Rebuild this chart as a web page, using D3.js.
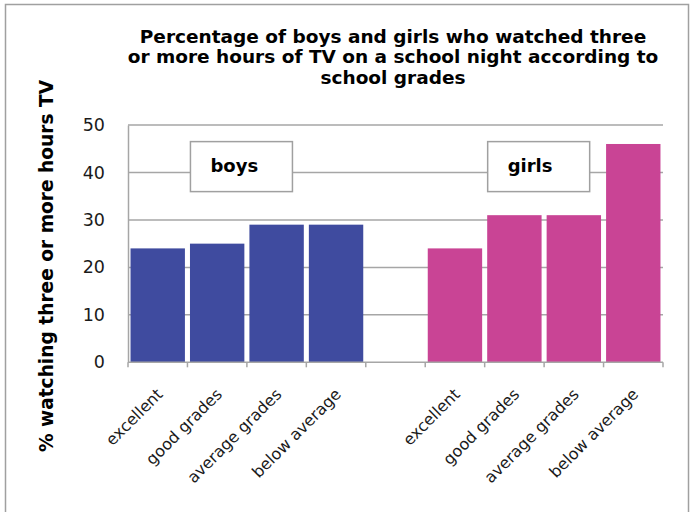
<!DOCTYPE html>
<html>
<head>
<meta charset="utf-8">
<script src="https://cdn.jsdelivr.net/npm/d3@7"></script>
<style>
  html, body { margin: 0; padding: 0; background: #fff; }
  svg { display: block; }
  text { font-family: "DejaVu Sans", Verdana, sans-serif; }
</style>
</head>
<body>
<svg id="chart" width="696" height="512"></svg>
<script>
// Grade categories shared by both groups
const grades = ["excellent", "good grades", "average grades", "below average"];
// Percentage watching 3+ hours of TV on a school night
const boysValues = [24, 25, 29, 29];
const girlsValues = [24, 31, 31, 46];
const yTicks = [0, 10, 20, 30, 40, 50];
const titleLines = [
  "Percentage of boys and girls who watched three",
  "or more hours of TV on a school night according to",
  "school grades"
];
const yLabel = "% watching three or more hours TV";

// One slot per bar, with an empty slot separating the two groups
const slots = [
  ...grades.map((g, i) => ({ key: "b" + i, label: g, value: boysValues[i], group: "boys" })),
  { key: "gap", label: "", value: null, group: null },
  ...grades.map((g, i) => ({ key: "g" + i, label: g, value: girlsValues[i], group: "girls" }))
];

const colors = { boys: "#3F4B9F", girls: "#C94495" };
const gridColor = "#a6a6a6";

const svg = d3.select("#chart");

// outer frame
svg.append("rect")
  .attr("x", 5.5).attr("y", 4.5)
  .attr("width", 683).attr("height", 520)
  .attr("fill", "none").attr("stroke", "#a0a0a0").attr("stroke-width", 1.5);

const plot = { left: 128, right: 663, top: 125, bottom: 362.3 };

const x = d3.scaleBand()
  .domain(slots.map(d => d.key))
  .range([plot.left, plot.right])
  .paddingInner(0.085)
  .paddingOuter(0.0425);

const xSlot = d3.scaleBand()
  .domain(slots.map(d => d.key))
  .range([plot.left, plot.right]);

const y = d3.scaleLinear().domain([0, 50]).range([plot.bottom, plot.top]);

// horizontal gridlines
svg.append("g")
  .selectAll("line")
  .data(yTicks.filter(t => t > 0))
  .join("line")
  .attr("x1", plot.left).attr("x2", plot.right)
  .attr("y1", d => y(d)).attr("y2", d => y(d))
  .attr("stroke", gridColor).attr("stroke-width", 1.5);

// y axis labels and line
const yAxis = d3.axisLeft(y).tickValues(yTicks).tickSize(0).tickPadding(23);
svg.append("g")
  .attr("transform", `translate(${plot.left},0)`)
  .call(yAxis)
  .call(g => g.select(".domain").attr("stroke", gridColor).attr("stroke-width", 1.5))
  .call(g => g.selectAll("text")
    .attr("font-size", 17.5)
    .attr("fill", "#1a1a1a")
    .attr("font-family", "DejaVu Sans, Verdana, sans-serif"));

// bars
svg.append("g")
  .selectAll("rect")
  .data(slots.filter(d => d.value !== null))
  .join("rect")
  .attr("x", d => x(d.key))
  .attr("width", x.bandwidth())
  .attr("y", d => y(d.value))
  .attr("height", d => y(0) - y(d.value))
  .attr("fill", d => colors[d.group]);

// x axis line with ticks at slot boundaries
const xAxisG = svg.append("g");
xAxisG.append("line")
  .attr("x1", plot.left).attr("x2", plot.right)
  .attr("y1", plot.bottom).attr("y2", plot.bottom)
  .attr("stroke", gridColor).attr("stroke-width", 1.5);
const boundaries = slots.map(d => xSlot(d.key)).concat([plot.right]);
xAxisG.selectAll("line.tick")
  .data(boundaries)
  .join("line")
  .attr("class", "tick")
  .attr("x1", d => d).attr("x2", d => d)
  .attr("y1", plot.bottom).attr("y2", plot.bottom + 5)
  .attr("stroke", gridColor).attr("stroke-width", 1.5);

// rotated category labels
xAxisG.selectAll("text")
  .data(slots.filter(d => d.label))
  .join("text")
  .attr("transform", d => `translate(${xSlot(d.key) + xSlot.bandwidth() / 2 + 6},${plot.bottom + 33}) rotate(-45)`)
  .attr("text-anchor", "end")
  .attr("font-size", 16)
  .attr("fill", "#1a1a1a")
  .text(d => d.label);

// group label boxes
const groupBoxes = [
  { name: "boys", first: "b0" },
  { name: "girls", first: "g0" }
];
const boxG = svg.append("g")
  .selectAll("g")
  .data(groupBoxes)
  .join("g")
  .attr("transform", d => `translate(${xSlot(d.first) + xSlot.bandwidth() + 3},${y(46.5)})`);
boxG.append("rect")
  .attr("width", 102).attr("height", 50)
  .attr("fill", "#fff").attr("stroke", "#a0a0a0").attr("stroke-width", 1.5);
boxG.append("text")
  .attr("x", 20).attr("y", 30)
  .attr("font-size", 18).attr("font-weight", "bold")
  .attr("fill", "#000")
  .text(d => d.name);

// title
svg.append("text")
  .attr("text-anchor", "middle")
  .attr("font-size", 18.5).attr("font-weight", "bold")
  .attr("fill", "#000")
  .selectAll("tspan")
  .data(titleLines)
  .join("tspan")
  .attr("x", 393)
  .attr("y", (d, i) => 42.5 + i * 20.5)
  .text(d => d);

// y axis title
svg.append("text")
  .attr("transform", `translate(53,266) rotate(-90)`)
  .attr("text-anchor", "middle")
  .attr("font-size", 18.6).attr("font-weight", "bold")
  .attr("fill", "#000")
  .text(yLabel);
</script>
</body>
</html>
